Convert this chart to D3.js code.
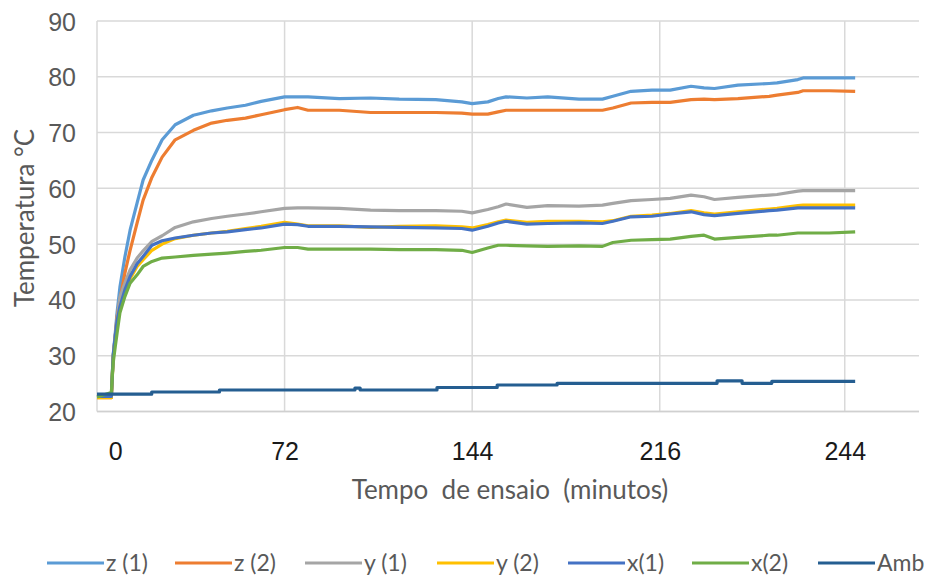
<!DOCTYPE html>
<html>
<head>
<meta charset="utf-8">
<script src="https://cdn.jsdelivr.net/npm/d3@7"></script>
<style>
  html, body { margin: 0; padding: 0; background: #fff; }
  svg { display: block; font-family: Lato, "Liberation Sans", sans-serif; }
</style>
</head>
<body>
<svg id="chart" width="935" height="577"></svg>
<script>
// ---- Data ----
const time = [0, 5.5, 6.2, 7, 7.7, 8.8, 10.7, 12.7, 15.4, 17.7, 21.1, 25, 30, 37, 44, 50, 57, 63, 72, 77, 81, 93, 105, 116, 130, 140, 144, 150, 154, 157, 165, 173, 185, 194, 198, 205, 213, 220, 228, 233, 237, 246, 258, 261, 269, 271, 281, 291];

const z1 = [22.6, 22.6, 30, 34, 37.7, 42.3, 47.7, 52.5, 57.4, 61.5, 65.1, 68.7, 71.4, 73.1, 73.9, 74.4, 74.9, 75.6, 76.4, 76.4, 76.4, 76.1, 76.2, 76, 75.9, 75.5, 75.2, 75.5, 76.1, 76.4, 76.2, 76.4, 76, 76, 76.5, 77.4, 77.6, 77.6, 78.3, 78, 77.9, 78.5, 78.8, 78.9, 79.5, 79.8, 79.8, 79.8];
const z2 = [22.5, 22.5, 29.5, 33.5, 37, 40, 44.8, 48.9, 53.8, 57.9, 62, 65.6, 68.7, 70.4, 71.7, 72.2, 72.6, 73.2, 74.1, 74.5, 74, 74, 73.6, 73.6, 73.6, 73.5, 73.3, 73.3, 73.7, 74, 74, 74, 74, 74, 74.4, 75.3, 75.4, 75.4, 75.9, 76, 75.9, 76.1, 76.5, 76.7, 77.2, 77.5, 77.5, 77.4];
const y1 = [22.8, 22.8, 29.8, 33.5, 36.5, 40.5, 43, 45.4, 47.5, 48.8, 50.5, 51.5, 53, 54, 54.6, 55, 55.4, 55.8, 56.4, 56.5, 56.5, 56.4, 56.1, 56, 56, 55.9, 55.6, 56.2, 56.7, 57.2, 56.6, 56.9, 56.8, 57, 57.3, 57.8, 58, 58.2, 58.8, 58.5, 58, 58.4, 58.8, 58.9, 59.5, 59.6, 59.6, 59.6];
const y2 = [22.5, 22.5, 29.8, 33, 35.5, 38.5, 41.5, 43.8, 46, 47.2, 48.9, 50, 51, 51.6, 52, 52.3, 52.8, 53.2, 53.9, 53.6, 53.3, 53.3, 53, 53.2, 53.3, 53.1, 52.9, 53.5, 54, 54.3, 53.9, 54.1, 54.1, 54, 54.2, 55, 55.2, 55.5, 56, 55.6, 55.4, 55.8, 56.3, 56.4, 56.9, 57, 57, 57];
const x1 = [22.7, 22.7, 30, 33.5, 36.2, 38.8, 41.8, 44.2, 46.5, 47.8, 49.8, 50.6, 51.1, 51.6, 52, 52.2, 52.6, 52.9, 53.6, 53.5, 53.2, 53.2, 53.1, 53, 52.9, 52.8, 52.5, 53.2, 53.8, 54.1, 53.6, 53.7, 53.8, 53.7, 54.1, 54.9, 55, 55.4, 55.8, 55.3, 55.1, 55.5, 56, 56.1, 56.5, 56.5, 56.5, 56.5];
const x2 = [22.6, 23.4, 28.7, 31.6, 34, 37.7, 40.6, 43, 44.5, 46, 46.9, 47.5, 47.7, 48, 48.2, 48.4, 48.7, 48.9, 49.4, 49.4, 49.1, 49.1, 49.1, 49, 49, 48.9, 48.5, 49.3, 49.8, 49.8, 49.7, 49.6, 49.7, 49.6, 50.3, 50.7, 50.8, 50.9, 51.4, 51.6, 50.9, 51.2, 51.6, 51.6, 52, 52, 52, 52.2];

const ambTime = [0, 21, 47, 99, 101, 130.5, 153.6, 176.6, 238, 247.6, 259, 291];
const amb = [23.1, 23.5, 23.85, 24.2, 23.85, 24.3, 24.75, 25.05, 25.5, 25.05, 25.4, 25.4];

const seriesNames = ["z (1)", "z (2)", "y (1)", "y (2)", "x(1)", "x(2)", "Amb"];
const seriesColors = ["#5B9BD5", "#ED7D31", "#A5A5A5", "#FFC000", "#4472C4", "#70AD47", "#255E91"];

const yTicks = [20, 30, 40, 50, 60, 70, 80, 90];
const xTickPos = [7, 72, 144, 216, 287];
const xTickLabels = ["0", "72", "144", "216", "244"];
const xGridPos = [0, 72, 144, 216, 287];

const yTitle = "Temperatura °C";
const xTitle = "Tempo  de ensaio  (minutos)";

// ---- Build ----
const svg = d3.select("#chart");
const x = d3.scaleLinear().domain([0, 315.5]).range([97, 919]);
const y = d3.scaleLinear().domain([20, 90]).range([411.5, 21]);

const grid = svg.append("g");
grid.selectAll("line.h").data(yTicks).join("line")
  .attr("x1", x.range()[0]).attr("x2", x.range()[1])
  .attr("y1", d => y(d)).attr("y2", d => y(d))
  .attr("stroke", "#d9d9d9").attr("stroke-width", 1.5);
grid.selectAll("line.v").data(xGridPos).join("line")
  .attr("x1", d => x(d)).attr("x2", d => x(d))
  .attr("y1", y(20)).attr("y2", y(90))
  .attr("stroke", "#d9d9d9").attr("stroke-width", 1.5);

// Y axis labels
const yAxis = d3.axisLeft(y).tickValues(yTicks).tickSize(0).tickPadding(0).tickFormat(d3.format("d"));
const gy = svg.append("g").attr("transform", `translate(${76},0)`).call(yAxis);
gy.select(".domain").remove();
gy.selectAll("text").attr("fill", "#595959").style("font-size", "25px").attr("dy", "0.36em");

// X axis labels
const xAxis = d3.axisBottom(x).tickValues(xTickPos).tickSize(0).tickPadding(0)
  .tickFormat((d, i) => xTickLabels[i]);
const gx = svg.append("g").attr("transform", `translate(0,${y(20)})`).call(xAxis);
gx.select(".domain").remove();
gx.selectAll("text").attr("fill", "#1a1a1a").style("font-size", "25px").attr("y", 48).attr("dy", 0);

// bottom axis line
svg.append("line").attr("x1", x.range()[0]).attr("x2", x.range()[1])
  .attr("y1", y(20)).attr("y2", y(20)).attr("stroke", "#d0d0d0").attr("stroke-width", 1.5);

// Titles
svg.append("text").attr("transform", `translate(34,${218}) rotate(-90)`)
  .attr("text-anchor", "middle").attr("fill", "#595959").style("font-size", "26px").text(yTitle);
svg.append("text").attr("x", 510).attr("y", 499).attr("text-anchor", "middle")
  .attr("fill", "#595959").style("font-size", "26px").style("white-space", "pre").text(xTitle);

// Lines
const seriesData = [z1, z2, y1, y2, x1, x2];
const line = d3.line().x(d => x(d[0])).y(d => y(d[1]));
const gl = svg.append("g").attr("fill", "none").attr("stroke-width", 3.2).attr("stroke-linejoin", "round");
seriesData.forEach((vals, i) => {
  gl.append("path").datum(time.map((t, j) => [t, vals[j]]))
    .attr("stroke", seriesColors[i]).attr("d", line);
});
const stepLine = d3.line().x(d => x(d[0])).y(d => y(d[1])).curve(d3.curveStepAfter);
gl.append("path").datum(ambTime.map((t, j) => [t, amb[j]]))
  .attr("stroke", seriesColors[6]).attr("d", stepLine);

// Legend
const legendX = [47, 175, 305, 437, 568, 692, 818];
const lg = svg.append("g");
seriesNames.forEach((name, i) => {
  lg.append("line").attr("x1", legendX[i]).attr("x2", legendX[i] + 57)
    .attr("y1", 563).attr("y2", 563).attr("stroke", seriesColors[i]).attr("stroke-width", 3.2);
  lg.append("text").attr("x", legendX[i] + 59).attr("y", 571)
    .attr("fill", "#595959").style("font-size", "23px").text(name);
});
</script>
</body>
</html>
